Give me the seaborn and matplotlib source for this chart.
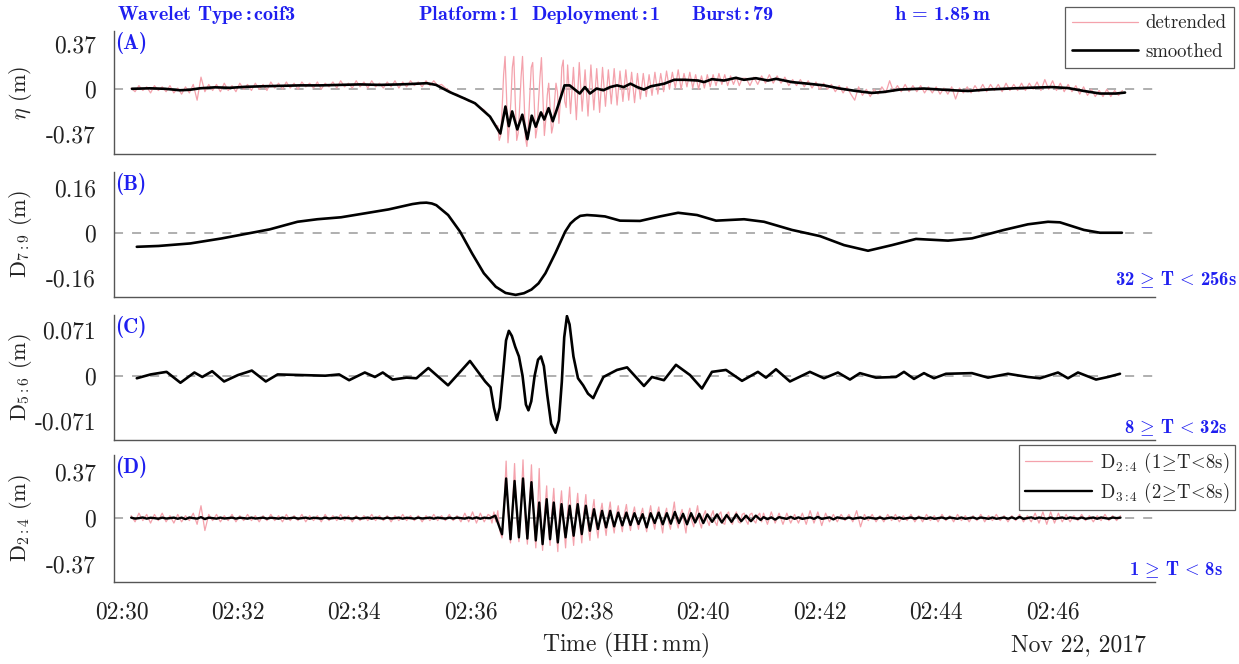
import numpy as np
import pandas as pd
import matplotlib
matplotlib.use("Agg")
import matplotlib.pyplot as plt
import matplotlib.dates as mdates
from matplotlib.lines import Line2D
import seaborn as sns

# ---------------- data: seconds after 02:30:00 (Nov 22, 2017), metres ----------------
T0 = pd.Timestamp("2017-11-22 02:30:00")

# (A) detrended surface elevation, read on segments of regular sampling
eta_raw_q1_t = np.arange(10, 387, 4)
eta_raw_q1 = [0.01, -0.02, 0.03, -0.01, 0.02, -0.03, 0.03, -0.01, 0.02, -0.02,
              0.03, -0.03, 0.01, -0.04, 0.02, -0.03, 0.04, -0.09, 0.10, -0.02,
              0.04, -0.01, 0.04, -0.02, 0.05, -0.01, 0.03, -0.02, 0.05, 0.00,
              0.04, -0.01, 0.05, 0.00, 0.04, -0.01, 0.06, 0.01, 0.05, 0.00,
              0.06, 0.01, 0.05, 0.00, 0.06, 0.02, 0.05, 0.01, 0.06, 0.00,
              0.05, 0.02, 0.06, 0.01, 0.07, 0.02, 0.05, 0.01, 0.07, 0.02,
              0.06, 0.01, 0.07, 0.02, 0.05, 0.01, 0.06, 0.02, 0.07, 0.01,
              0.06, 0.02, 0.07, 0.03, 0.06, 0.02, 0.07, 0.03, 0.07, 0.03,
              0.04, 0.01, -0.01, -0.04, -0.04, -0.07, -0.07, -0.10, -0.10, -0.13,
              -0.15, -0.17, -0.21, -0.25, -0.30]
eta_raw_burst_t = np.arange(388, 459, 1.5)
eta_raw_burst = [-0.30, -0.42, -0.38, -0.15, 0.12, 0.27, -0.05, -0.44, -0.30, -0.10,
                 0.18, 0.27, -0.10, -0.42, -0.36, -0.15, 0.10, 0.27, -0.05, -0.40,
                 -0.47, -0.30, -0.05, 0.18, 0.22, -0.10, -0.40, -0.32, -0.10, 0.10,
                 0.26, -0.05, -0.38, -0.25, -0.05, 0.05, -0.15, -0.36, -0.30, -0.10,
                 0.05, -0.02, -0.28, -0.10, 0.18, 0.24, -0.10, -0.15]
eta_raw_mid_t = np.arange(460, 641, 3)
eta_raw_mid = [0.20, -0.20, 0.18, -0.25, 0.22, -0.18, 0.16, -0.22, 0.20, -0.17,
               0.17, -0.19, 0.18, -0.14, 0.16, -0.12, 0.17, -0.13, 0.15, -0.10,
               0.16, -0.09, 0.14, -0.11, 0.13, -0.08, 0.13, -0.06, 0.12, -0.05,
               0.14, -0.04, 0.13, -0.02, 0.15, 0.00, 0.14, 0.01, 0.16, 0.00,
               0.13, 0.02, 0.14, 0.01, 0.12, 0.00, 0.11, 0.01, 0.12, 0.02,
               0.12, 0.03, 0.13, 0.04, 0.12, 0.03, 0.11, 0.04, 0.10, 0.03,
               0.09]
eta_raw_late_t = np.arange(644, 1033, 4)
eta_raw_late = [0.09, 0.03, 0.10, 0.04, 0.11, 0.05, 0.12, 0.05, 0.11, 0.05,
                0.10, 0.03, 0.08, 0.03, 0.08, 0.02, 0.07, 0.01, 0.06, 0.00,
                0.05, 0.00, 0.04, -0.02, 0.03, -0.03, 0.02, -0.04, -0.09, 0.02,
                -0.05, 0.00, -0.06, 0.00, -0.04, 0.02, -0.03, 0.07, -0.02, 0.03,
                -0.02, 0.04, -0.02, 0.03, -0.02, 0.03, -0.03, 0.02, -0.03, 0.02,
                -0.04, 0.01, -0.04, 0.02, -0.08, 0.01, -0.03, 0.02, -0.03, 0.03,
                -0.02, 0.04, -0.02, 0.04, -0.01, 0.04, -0.02, 0.05, -0.01, 0.04,
                -0.01, 0.05, -0.01, 0.05, 0.00, 0.06, -0.01, 0.08, 0.00, 0.07,
                -0.01, 0.05, -0.02, 0.04, -0.02, 0.03, -0.04, 0.02, -0.05, 0.00,
                -0.06, -0.01, -0.06, 0.00, -0.06, -0.01, -0.05, -0.01]

# (A) smoothed elevation (time s, value m)
eta_smooth = [(10.8, 0.004), (29.4, 0.008), (44.8, 0.004), (60.3, -0.008), (70.6, -0.004),
              (80.9, 0.008), (96.4, 0.016), (111.9, 0.012), (127.3, 0.020), (142.8, 0.024),
              (163.4, 0.028), (184.0, 0.032), (204.7, 0.032), (225.3, 0.036), (245.9, 0.040),
              (266.5, 0.036), (287.1, 0.040), (300.0, 0.044), (314.7, 0.050), (324.3, 0.036),
              (338.7, -0.024), (352.0, -0.070), (364.5, -0.115), (380.0, -0.225), (390.6, -0.364),
              (395.9, -0.142), (399.4, -0.303), (402.8, -0.182), (408.1, -0.330), (413.3, -0.209),
              (418.5, -0.410), (423.0, -0.217), (427.2, -0.308), (432.5, -0.190), (435.9, -0.249),
              (440.4, -0.155), (444.7, -0.263), (449.9, -0.142), (456.8, 0.032), (462.1, 0.032),
              (472.5, -0.035), (477.8, 0.018), (483.0, -0.035), (489.9, 0.006), (496.9, -0.008),
              (503.8, 0.018), (510.9, 0.032), (517.8, 0.018), (524.8, 0.046), (531.7, 0.018),
              (538.7, -0.002), (545.7, 0.024), (559.6, 0.046), (570.0, 0.078), (580.5, 0.078),
              (594.4, 0.072), (600.6, 0.059), (608.8, 0.083), (621.2, 0.072), (633.5, 0.094),
              (641.8, 0.078), (654.1, 0.091), (666.5, 0.072), (674.8, 0.086), (691.3, 0.059),
              (707.8, 0.046), (724.3, 0.032), (740.8, 0.006), (757.3, -0.014), (773.8, -0.030),
              (786.2, -0.022), (802.7, -0.002), (827.4, 0.006), (856.3, -0.008), (872.8, -0.014),
              (893.4, -0.002), (926.4, 0.010), (959.4, 0.018), (975.9, 0.010), (992.3, -0.014),
              (1008.9, -0.035), (1025.4, -0.035), (1034.7, -0.027)]

# (B) D7:9
d79 = [(15.8, -0.048), (38.3, -0.045), (71.0, -0.036), (103.7, -0.018), (128.3, -0.002),
       (152.8, 0.014), (181.5, 0.041), (201.9, 0.050), (226.4, 0.057), (251.0, 0.071),
       (275.5, 0.085), (300.0, 0.104), (308.0, 0.108), (314.4, 0.109), (320.0, 0.106),
       (324.6, 0.100), (336.8, 0.065), (349.1, 0.006), (361.4, -0.071), (373.6, -0.142),
       (385.9, -0.190), (396.0, -0.212), (406.4, -0.219), (415.0, -0.213), (422.7, -0.200),
       (430.0, -0.178), (437.1, -0.142), (447.3, -0.071), (457.5, 0.006), (463.0, 0.035),
       (467.8, 0.050), (473.0, 0.062), (480.0, 0.065), (489.0, 0.063), (498.5, 0.060),
       (514.0, 0.045), (534.6, 0.044), (555.2, 0.060), (573.9, 0.073), (593.4, 0.065),
       (613.0, 0.045), (641.9, 0.050), (662.5, 0.041), (691.3, 0.012), (720.2, -0.010),
       (745.0, -0.042), (769.7, -0.062), (794.4, -0.042), (819.2, -0.020), (852.2, -0.026),
       (876.9, -0.018), (909.9, 0.012), (934.6, 0.032), (955.3, 0.041), (967.6, 0.039),
       (992.3, 0.012), (1008.9, 0.002), (1031.5, 0.002)]

# (C) D5:6
d56 = [(15.8, -0.004), (30.1, 0.002), (46.5, 0.006), (60.8, -0.011), (75.2, 0.005),
       (83.3, -0.002), (93.5, 0.007), (105.8, -0.009), (120.1, 0.001), (134.4, 0.008),
       (148.8, -0.009), (161.0, 0.002), (185.6, 0.001), (210.1, 0.000), (224.4, 0.002),
       (234.7, -0.007), (250.9, 0.005), (261.3, -0.002), (269.4, 0.005), (279.6, -0.006),
       (293.9, -0.003), (304.1, -0.004), (316.4, 0.012), (336.7, -0.015), (359.3, 0.023),
       (375.0, -0.009), (380.5, -0.018), (384.0, -0.050), (387.1, -0.069), (390.0, -0.050),
       (393.5, 0.005), (396.5, 0.055), (399.4, 0.070), (402.5, 0.062), (406.0, 0.045),
       (409.8, 0.030), (413.5, 0.000), (417.0, -0.045), (419.6, -0.054), (422.5, -0.040),
       (426.0, 0.000), (429.5, 0.025), (432.5, 0.030), (435.5, 0.015), (439.0, -0.030),
       (443.0, -0.075), (447.5, -0.089), (451.0, -0.070), (454.0, -0.010), (456.5, 0.060),
       (459.3, 0.093), (462.0, 0.080), (466.0, 0.030), (470.7, -0.004), (476.0, -0.015),
       (481.0, -0.028), (486.4, -0.035), (491.0, -0.020), (496.9, -0.002), (510.9, 0.009),
       (521.3, 0.013), (538.7, -0.016), (546.9, -0.002), (559.3, -0.007), (571.7, 0.017),
       (586.2, 0.001), (598.5, -0.020), (608.8, 0.006), (623.3, 0.009), (639.8, -0.008),
       (656.2, 0.006), (664.5, -0.003), (674.8, 0.010), (689.2, -0.009), (709.8, 0.006),
       (724.3, -0.004), (738.7, 0.005), (751.1, -0.006), (761.4, 0.004), (777.9, -0.003),
       (798.5, -0.002), (806.8, 0.006), (817.1, -0.005), (827.4, 0.004), (837.7, -0.004),
       (850.1, 0.003), (876.9, 0.004), (893.4, -0.003), (914.0, 0.003), (934.6, -0.002),
       (947.0, -0.004), (965.6, 0.005), (975.9, -0.004), (986.2, 0.005), (1004.8, -0.006),
       (1017.1, -0.002), (1029.5, 0.003)]

# (D) D2:4 (pink) and D3:4 (black)
quiet_a_t = np.arange(10, 379, 4)
quiet_b_t = np.arange(662, 1031, 4)
d24_q1 = [0.02, -0.03, 0.04, -0.02, 0.03, -0.04, 0.03, -0.02, 0.04, -0.03,
          0.02, -0.04, 0.03, -0.03, 0.02, -0.02, 0.04, -0.05, 0.10, -0.10,
          0.03, -0.02, 0.03, -0.03, 0.02, -0.02, 0.03, -0.03, 0.02, -0.02,
          0.03, -0.02, 0.02, -0.03, 0.02, -0.02, 0.03, -0.02, 0.02, -0.03,
          0.03, -0.02, 0.02, -0.02, 0.03, -0.03, 0.02, -0.02, 0.02, -0.03,
          0.03, -0.02, 0.02, -0.02, 0.03, -0.02, 0.02, -0.03, 0.02, -0.02,
          0.02, -0.02, 0.03, -0.02, 0.02, -0.02, 0.02, -0.03, 0.02, -0.02,
          0.03, -0.02, 0.02, -0.02, 0.02, -0.03, 0.02, -0.02, 0.03, -0.02,
          0.02, -0.02, 0.03, -0.02, 0.02, -0.03, 0.04, -0.03, 0.05, -0.04,
          0.04, -0.03, 0.03]
d24_burst = [(380.0, 0.02), (382.0, -0.04), (384.0, 0.05), (386.0, -0.03), (388.0, 0.06),
             (390.0, -0.10), (392.4, -0.16), (394.5, 0.10), (396.6, 0.46), (398.5, 0.05),
             (401.1, -0.20), (403.2, 0.10), (405.3, 0.44), (407.5, 0.02), (409.8, -0.19),
             (412.0, 0.12), (414.0, 0.47), (416.2, 0.00), (418.5, -0.21), (420.6, 0.10),
             (422.7, 0.43), (425.0, 0.00), (427.2, -0.24), (429.0, 0.05), (430.7, 0.40),
             (432.5, -0.05), (434.2, -0.26), (436.3, 0.05), (438.4, 0.26), (440.0, -0.05),
             (441.9, -0.22), (443.8, 0.05), (445.7, 0.24), (447.8, -0.05), (449.9, -0.27),
             (451.8, 0.06), (453.7, 0.22), (455.8, -0.04), (457.9, -0.24), (460.0, 0.05),
             (462.1, 0.25), (464.2, -0.05), (466.2, -0.22), (468.3, 0.04), (470.4, 0.20),
             (472.5, -0.05), (474.6, -0.20), (476.7, 0.04), (478.8, 0.19), (480.9, -0.05),
             (483.0, -0.18), (485.1, 0.04), (487.2, 0.15), (489.2, -0.05), (491.3, -0.16),
             (493.4, 0.03), (495.5, 0.12), (497.6, -0.03), (499.7, -0.14), (501.8, 0.03),
             (503.9, 0.13), (506.0, -0.03), (508.0, -0.12), (510.1, 0.02), (512.2, 0.10),
             (514.3, -0.02), (516.4, -0.11), (518.5, 0.03), (520.6, 0.11), (522.7, -0.02),
             (524.8, -0.10), (526.8, 0.02), (528.9, 0.09), (531.0, -0.02), (533.1, -0.09),
             (535.2, 0.02), (537.3, 0.08), (539.4, -0.03), (541.5, -0.11), (543.6, 0.02),
             (545.6, 0.10), (547.7, -0.02), (549.8, -0.09)]
d24_mid_t = np.arange(552, 661, 2)
d24_mid = [0.03, 0.09, -0.03, -0.12, 0.02, 0.08, -0.03, -0.09, 0.03, 0.13,
           -0.02, -0.08, 0.02, 0.07, -0.03, -0.12, 0.02, 0.08, -0.02, -0.07,
           0.02, 0.10, -0.03, -0.08, 0.02, 0.06, -0.02, -0.06, 0.02, 0.06,
           -0.03, -0.06, 0.03, 0.05, -0.04, -0.05, 0.03, 0.05, -0.03, -0.05,
           0.02, 0.05, -0.03, -0.04, 0.03, 0.04, -0.02, -0.05, 0.03, 0.04,
           -0.02, -0.04, 0.02, 0.04, -0.03]
d24_q2 = [0.04, -0.05, 0.05, -0.04, 0.04, -0.05, 0.04, -0.04, 0.03, -0.04,
          0.04, -0.05, 0.06, -0.04, 0.05, -0.06, 0.04, -0.03, 0.03, -0.03,
          0.03, -0.02, 0.03, -0.03, 0.06, -0.07, 0.03, -0.02, 0.03, -0.03,
          0.02, -0.03, 0.03, -0.02, 0.03, -0.03, 0.02, -0.02, 0.03, -0.03,
          0.02, -0.03, 0.03, -0.02, 0.02, -0.03, 0.03, -0.02, 0.02, -0.03,
          0.03, -0.02, 0.02, -0.03, 0.02, -0.02, 0.03, -0.03, 0.02, -0.02,
          0.03, -0.02, 0.02, -0.03, 0.02, -0.02, 0.03, -0.03, 0.02, -0.03,
          0.04, -0.04, 0.05, -0.05, 0.05, -0.04, 0.04, -0.03, 0.03, -0.03,
          0.02, -0.02, 0.03, -0.02, 0.02, -0.03, 0.02, -0.02, 0.03, -0.02,
          0.02, -0.02, 0.02]

d34_q1 = [0.004, -0.004, 0.0, 0.005, -0.004, 0.003, 0.0, -0.005, 0.004, -0.003,
          0.0, 0.004, -0.005, 0.004, -0.008, 0.005, 0.0, -0.004, 0.008, -0.008,
          0.004, 0.0, -0.004, 0.004, -0.003, 0.0, 0.004, -0.004, 0.003, 0.0,
          -0.004, 0.004, -0.003, 0.0, 0.004, -0.004, 0.003, 0.0, -0.004, 0.004,
          -0.003, 0.0, 0.004, -0.004, 0.0, 0.004, -0.004, 0.003, 0.0, -0.004,
          0.004, -0.003, 0.0, 0.004, -0.004, 0.003, 0.0, -0.004, 0.004, -0.003,
          0.0, 0.004, -0.004, 0.003, 0.0, -0.004, 0.004, -0.003, 0.0, 0.004,
          -0.004, 0.003, 0.0, -0.004, 0.004, -0.003, 0.0, 0.004, -0.004, 0.004,
          0.0, -0.004, 0.004, -0.003, 0.004, 0.0, -0.004, 0.005, -0.004, 0.006,
          -0.005, 0.004, 0.0]
d34_burst = [(380.0, 0.00), (385.4, 0.02), (392.4, -0.13), (396.6, 0.32), (401.1, -0.17),
             (405.3, 0.30), (409.8, -0.155), (414.0, 0.32), (418.5, -0.165), (422.7, 0.29),
             (427.2, -0.18), (430.7, 0.126), (434.2, -0.21), (438.4, 0.153), (441.9, -0.17),
             (445.7, 0.126), (449.9, -0.196), (453.7, 0.113), (457.9, -0.155), (462.1, 0.10),
             (466.2, -0.142), (470.4, 0.113), (474.6, -0.129), (478.8, 0.10), (483.0, -0.102),
             (487.2, 0.072), (491.3, -0.088), (495.5, 0.059), (499.7, -0.075), (503.9, 0.059),
             (508.0, -0.067), (512.2, 0.045), (516.4, -0.059), (520.6, 0.045), (524.8, -0.056),
             (528.9, 0.040), (533.1, -0.048), (537.3, 0.032), (541.5, -0.075), (545.6, 0.040),
             (549.8, -0.040), (553.9, 0.045), (558.1, -0.050), (562.3, 0.040), (566.4, -0.045),
             (570.6, 0.050), (574.8, -0.040), (579.0, 0.035), (583.1, -0.050), (587.3, 0.040),
             (591.5, -0.035), (595.7, 0.035), (599.9, -0.040), (604.0, 0.030), (609.0, -0.030),
             (614.0, 0.030), (619.0, -0.035), (624.0, 0.025), (629.0, -0.030), (634.0, 0.030),
             (639.0, -0.025), (644.0, 0.020), (649.0, -0.025), (654.0, 0.020), (659.0, -0.015)]
d34_q2 = [0.008, -0.008, 0.006, -0.012, 0.008, 0.0, -0.006, 0.010, -0.006, 0.006,
          -0.006, 0.0, 0.006, -0.006, 0.010, -0.006, 0.0, 0.006, -0.010, 0.006,
          0.0, -0.005, 0.005, -0.005, 0.0, 0.005, -0.005, 0.005, 0.0, -0.005,
          0.005, -0.005, 0.0, 0.005, -0.005, 0.005, -0.005, 0.0, 0.005, -0.005,
          0.005, 0.0, -0.005, 0.005, -0.005, 0.0, 0.005, -0.005, 0.005, 0.0,
          -0.005, 0.005, -0.005, 0.0, 0.005, -0.005, 0.005, 0.0, -0.005, 0.005,
          -0.005, 0.0, 0.005, -0.005, 0.006, -0.006, 0.010, -0.006, 0.0, 0.006,
          -0.005, 0.005, 0.0, -0.005, 0.005, -0.005, 0.0, 0.005, -0.005, 0.005,
          0.0, -0.005, 0.005, -0.005, 0.0, 0.005, -0.005, 0.005, 0.0, -0.005,
          0.005, 0.0, 0.004]

# axis ranges / ticks
ylims = [(-0.532, 0.479), (-0.2265, 0.218), (-0.1003, 0.0947), (-0.515, 0.509)]
yticks = [[-0.37, 0, 0.37], [-0.16, 0, 0.16], [-0.071, 0, 0.071], [-0.37, 0, 0.37]]
yticklabels = [["-0.37", "0", "0.37"], ["-0.16", "0", "0.16"],
               ["-0.071", "0", "0.071"], ["-0.37", "0", "0.37"]]
ylabels = [r"$\eta$ (m)", r"D$_{7:9}$ (m)", r"D$_{5:6}$ (m)", r"D$_{2:4}$ (m)"]
panel_tags = ["(A)", "(B)", "(C)", "(D)"]
band_texts = [None, r"32$\,\geq\,$T$\,<\,$256s", r"8$\,\geq\,$T$\,<\,$32s", r"1$\,\geq\,$T$\,<\,$8s"]
xlim_s = (-7.7, 1065.6)

# ---------------- style ----------------
sns.set_theme(style="white")
plt.rcParams["font.family"] = ["cmr10", "DejaVu Serif"]
plt.rcParams["mathtext.fontset"] = "cm"
plt.rcParams["axes.unicode_minus"] = False
plt.rcParams["axes.formatter.use_mathtext"] = True

BLUE = "#1f1ff0"
PINK = "#f4a2ac"
BOLD = ["cmb10", "DejaVu Serif"]
FW, FH = 1239, 664


def to_time(sec):
    return T0 + pd.to_timedelta(np.asarray(sec, dtype=float), unit="s")


def draw(ax, t, v, color, lw, z):
    df = pd.DataFrame({"time": to_time(t), "value": np.asarray(v, dtype=float)})
    sns.lineplot(data=df, x="time", y="value", ax=ax, color=color, linewidth=lw,
                 estimator=None, sort=False, legend=False, zorder=z)


fig = plt.figure(figsize=(FW / 100, FH / 100), dpi=100)
L_px, R_px = 114, 1155
boxes = [(31, 154), (172, 297), (315, 440), (455, 582)]
axes = [fig.add_axes([L_px / FW, 1 - b / FH, (R_px - L_px) / FW, (b - t) / FH]) for t, b in boxes]
axA, axB, axC, axD = axes

# panel A
pA_t = np.concatenate([eta_raw_q1_t, eta_raw_burst_t, eta_raw_mid_t, eta_raw_late_t])
pA_v = np.concatenate([eta_raw_q1, eta_raw_burst, eta_raw_mid, eta_raw_late])
draw(axA, pA_t, pA_v, PINK, 0.9, 2)
sA_t, sA_v = zip(*eta_smooth)
draw(axA, sA_t, sA_v, "black", 1.9, 3)

# panel B, C
bt, bv = zip(*d79)
draw(axB, bt, bv, "black", 1.9, 3)
ct, cv = zip(*d56)
draw(axC, ct, cv, "black", 1.9, 3)

# panel D
b24_t, b24_v = zip(*d24_burst)
pD_t = np.concatenate([quiet_a_t, b24_t, d24_mid_t, quiet_b_t])
pD_v = np.concatenate([d24_q1, b24_v, d24_mid, d24_q2])
draw(axD, pD_t, pD_v, PINK, 0.9, 2)
b34_t, b34_v = zip(*d34_burst)
kD_t = np.concatenate([quiet_a_t, b34_t, quiet_b_t])
kD_v = np.concatenate([d34_q1, b34_v, d34_q2])
draw(axD, kD_t, kD_v, "black", 1.7, 3)

xl = to_time(list(xlim_s))
for i, ax in enumerate(axes):
    ax.axhline(0, color="#a9a9a9", lw=1.3, ls=(0, (5, 5)), zorder=1)
    ax.set_xlim(xl[0], xl[1])
    ax.set_ylim(*ylims[i])
    ax.set_yticks(yticks[i])
    ax.set_yticklabels(yticklabels[i])
    ax.xaxis.set_major_locator(mdates.MinuteLocator(byminute=range(30, 48, 2)))
    ax.xaxis.set_major_formatter(mdates.DateFormatter("%H:%M"))
    for s in ["top", "right"]:
        ax.spines[s].set_visible(False)
    for s in ["left", "bottom"]:
        ax.spines[s].set_color("#555555")
        ax.spines[s].set_linewidth(1.0)
    ax.tick_params(axis="both", direction="inout", length=8, width=0.9,
                   color="#555555", labelsize=17, labelcolor="#222222")
    ax.tick_params(axis="y", pad=9)
    ax.tick_params(axis="x", pad=10)
    ax.set_xlabel("")
    ax.set_ylabel(ylabels[i], fontsize=16, color="#222222")
    ax.yaxis.set_label_coords(-0.077, 0.5)
    if i < 3:
        ax.tick_params(axis="x", labelbottom=False)
    hpx = boxes[i][1] - boxes[i][0]
    ax.text(0.001, 1 - 1 / hpx, panel_tags[i], transform=ax.transAxes, ha="left", va="top",
            color=BLUE, fontsize=15, family=BOLD)
    ax.set_facecolor("white")

# band annotations
for (txt, ypx) in zip(band_texts[1:], [280, 428, 570]):
    fig.text(1176 / FW, 1 - ypx / FH, txt, ha="center", va="center", color=BLUE,
             fontsize=13.5, family=BOLD)

# header
head_y = 1 - 15 / FH
HS = 14.5
fig.text(117 / FW, head_y, r"Wavelet Type$\,$:$\,$coif3", ha="left", va="center",
         color=BLUE, fontsize=HS, family=BOLD)
fig.text(418 / FW, head_y, r"Platform$\,$:$\,$1", ha="left", va="center",
         color=BLUE, fontsize=HS, family=BOLD)
fig.text(531 / FW, head_y, r"Deployment$\,$:$\,$1", ha="left", va="center",
         color=BLUE, fontsize=HS, family=BOLD)
fig.text(691 / FW, head_y, r"Burst$\,$:$\,$79", ha="left", va="center",
         color=BLUE, fontsize=HS, family=BOLD)
fig.text(894 / FW, head_y, r"h$\,=\,$1.85$\,$m", ha="left", va="center",
         color=BLUE, fontsize=HS, family=BOLD)

# x label + date
fig.text(626 / FW, 1 - 645 / FH, r"Time (HH$\,$:$\,$mm)", ha="center", va="center",
         fontsize=17, color="#222222")
fig.text(1146 / FW, 1 - 645 / FH, "Nov 22, 2017", ha="right", va="center",
         fontsize=17, color="#222222")

# legends
legA = fig.legend(handles=[Line2D([], [], color=PINK, lw=0.9), Line2D([], [], color="black", lw=1.9)],
                  labels=["detrended", "smoothed"], loc="upper right",
                  bbox_to_anchor=(1234 / FW, 1 - 7 / FH), frameon=True, fancybox=False,
                  edgecolor="#333333", fontsize=13.5, handlelength=3.5, handletextpad=0.4,
                  borderpad=0.4, labelspacing=0.55, borderaxespad=0)
legA.get_frame().set_linewidth(0.9)
legD = fig.legend(handles=[Line2D([], [], color=PINK, lw=0.9), Line2D([], [], color="black", lw=1.7)],
                  labels=[r"D$_{2:4}$ (1$\!\geq\!$T$\!<\!$8s)", r"D$_{3:4}$ (2$\!\geq\!$T$\!<\!$8s)"],
                  loc="upper right", bbox_to_anchor=(1235 / FW, 1 - 445 / FH), frameon=True,
                  fancybox=False, edgecolor="#333333", fontsize=13.5, handlelength=3.6,
                  handletextpad=0.4, borderpad=0.3, labelspacing=0.3, borderaxespad=0)
legD.get_frame().set_linewidth(0.9)

fig.savefig("out.png", dpi=100, facecolor="white")
